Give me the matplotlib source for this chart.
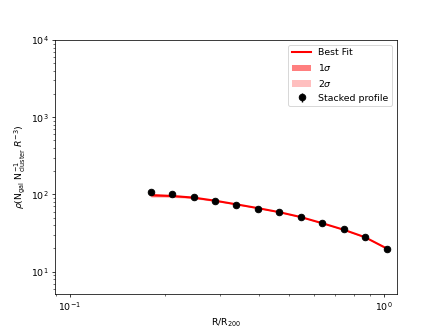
import numpy as np
import matplotlib
matplotlib.use("Agg")
import matplotlib.pyplot as plt

# stacked profile
r = [0.181, 0.212, 0.248, 0.290, 0.339, 0.397, 0.464, 0.543, 0.635, 0.743, 0.869, 1.02]
rho = [109, 101, 91.5, 82, 72.8, 65.4, 59.1, 51, 42.3, 35.3, 28.1, 19.9]
rho_err = [4, 3, 2.5, 2, 2, 1.8, 1.5, 1.3, 1.1, 1, 0.9, 0.8]

# best fit and confidence bands
fit = [98, 95.5, 91, 83, 74.5, 66.5, 59, 51, 42.5, 35, 28, 20]
lo1 = [95, 93.5, 89.5, 82, 73.8, 66, 58.6, 50.6, 42.2, 34.7, 27.7, 19.7]
hi1 = [101, 97.5, 92.5, 84, 75.2, 67, 59.4, 51.4, 42.8, 35.3, 28.3, 20.3]
lo2 = [92, 91.5, 88, 81, 73, 65.5, 58.2, 50.2, 41.9, 34.4, 27.4, 19.4]
hi2 = [104, 99.5, 94, 85, 76, 67.5, 59.8, 51.8, 43.1, 35.6, 28.6, 20.6]

fig = plt.figure(figsize=(6.4, 4.915), dpi=67.35)
ax = fig.add_axes([0.1276, 0.112, 0.7935, 0.767])

ax.plot(r, fit, color="red", lw=2.2, label="Best Fit")
ax.fill_between(r, lo1, hi1, color="red", alpha=0.5, lw=0, label=r"1$\sigma$")
ax.fill_between(r, lo2, hi2, color="red", alpha=0.25, lw=0, label=r"2$\sigma$")
ax.errorbar(r, rho, yerr=rho_err, fmt="o", color="black", ms=7, label="Stacked profile")

ax.set_xscale("log")
ax.set_yscale("log")
ax.set_xlim(0.0896, 1.1)
ax.set_ylim(5.15, 1e4)
ax.set_xlabel(r"R/R$_{200}$")
ax.set_ylabel(r"$\rho$(N$_{\rm gal}$ N$_{\rm cluster}^{-1}$ $R^{-3}$)")
ax.legend(loc="upper right")

fig.savefig("out.png")
